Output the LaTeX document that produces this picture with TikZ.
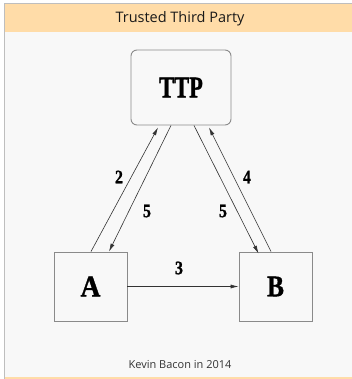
\documentclass[tikz,border=0pt]{standalone}
\usepackage{fontspec}
\newfontfamily\uifont{Open Sans}
\newfontfamily\heavyfont[FakeBold=1.2]{Liberation Serif}
\usetikzlibrary{arrows.meta}
\definecolor{panel}{HTML}{F8F8F8}
\definecolor{band}{HTML}{FFDCA8}
\definecolor{edge}{HTML}{BEBEBE}
\definecolor{boxline}{HTML}{8A8A8A}
\definecolor{ink}{HTML}{333333}
\tikzset{
  party/.style={draw=boxline, line width=0.9pt, fill=panel, minimum width=73pt, minimum height=69pt, inner sep=0pt},
  msg/.style={draw=ink, line width=0.6pt, -{Latex[length=8pt,width=4pt]}},
  num/.style={font=\heavyfont\bfseries\fontsize{19}{19}\selectfont, inner sep=0pt, text=black},
  big/.style={font=\heavyfont\bfseries\fontsize{30}{30}\selectfont, inner sep=0pt},
}
\begin{document}
\begin{tikzpicture}[x=1pt, y=-1pt]
\useasboundingbox (0,0) rectangle (352,379);
\fill[white] (0,0) rectangle (352,379);
% panel and title band
\fill[panel] (4,4) rectangle (352,378);
\fill[band] (4,4) rectangle (352,32);
\fill[band] (4,377) rectangle (352,379);
\draw[edge, line width=1.2pt] (4.5,379) -- (4.5,3.5) -- (352,3.5);
\node[font=\uifont\fontsize{14.5}{14.5}\selectfont, text=black!90] (title) at (180,19) {Trusted Third Party};
\node[font=\uifont\fontsize{11}{11}\selectfont, text=black!80] (credit) at (180,365) {Kevin Bacon in 2014};
% parties
\node[party, rounded corners=6pt, minimum width=100pt, minimum height=75pt] (TTP) at (181,87.5) {};
\node[big] at (TTP) {\scalebox{0.75}[1]{TTP}};
\node[party] (A) at (90.5,286.5) {};
\node[big] at (A) {\scalebox{0.92}[1]{A}};
\node[party] (B) at (275.5,286.5) {};
\node[big] at (B) {\scalebox{0.85}[1]{B}};
% messages
\draw[msg] ([xshift=0.5pt]A.north) -- ([xshift=-23pt,yshift=-2pt]TTP.south);
\draw[msg] ([xshift=-10pt]TTP.south) -- ([xshift=18.5pt]A.north);
\draw[msg] ([xshift=13pt]TTP.south) -- ([xshift=-17pt,yshift=-2pt]B.north);
\draw[msg] ([xshift=-4.5pt]B.north) -- ([xshift=28pt,yshift=-2pt]TTP.south);
\draw[msg] (A.east) -- (B.west);
% message numbers
\node[num] (n2) at (119,177) {\scalebox{0.83}[1]{2}};
\node[num] (n5a) at (147,211) {\scalebox{0.83}[1]{5}};
\node[num] (n5b) at (223,211) {\scalebox{0.83}[1]{5}};
\node[num] (n4) at (247,177) {\scalebox{0.83}[1]{4}};
\node[num] (n3) at (179,268) {\scalebox{0.83}[1]{3}};
\end{tikzpicture}
\end{document}
